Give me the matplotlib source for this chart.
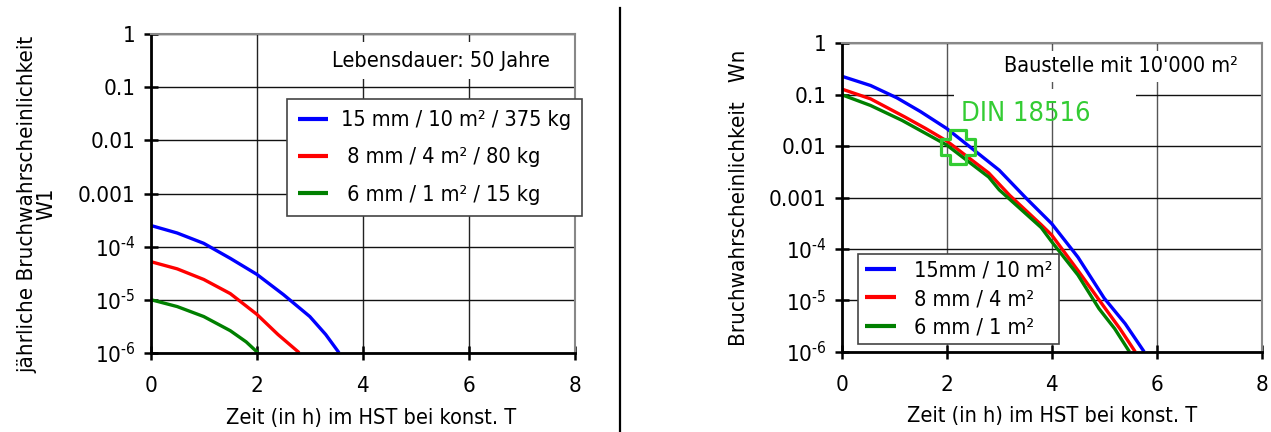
import matplotlib
matplotlib.use("Agg")
import matplotlib.pyplot as plt
from matplotlib.lines import Line2D
from matplotlib.path import Path
from matplotlib.ticker import FixedLocator, FixedFormatter, NullLocator

# ---------------- data ----------------
x_ticks = [0, 2, 4, 6, 8]
y_ticks = [1, 0.1, 0.01, 0.001, 1e-4, 1e-5, 1e-6]
y_tick_labels = ["1", "0.1", "0.01", "0.001",
                 r"$10^{\text{-4}}$", r"$10^{\text{-5}}$", r"$10^{\text{-6}}$"]

# left chart: annual failure probability W1
left_labels = ["15 mm / 10 m² / 375 kg", " 8 mm / 4 m² / 80 kg", " 6 mm / 1 m² / 15 kg"]
left_blue_x = [0, 0.5, 1.0, 1.5, 2.0, 2.5, 3.0, 3.3, 3.55]
left_blue_y = [2.5e-4, 1.8e-4, 1.15e-4, 6.0e-5, 3.0e-5, 1.25e-5, 4.8e-6, 2.2e-6, 1.0e-6]
left_red_x = [0, 0.5, 1.0, 1.5, 2.0, 2.4, 2.8]
left_red_y = [5.2e-5, 3.8e-5, 2.4e-5, 1.3e-5, 5.3e-6, 2.2e-6, 1.0e-6]
left_green_x = [0, 0.5, 1.0, 1.5, 1.8, 2.02]
left_green_y = [1.0e-5, 7.4e-6, 4.8e-6, 2.6e-6, 1.6e-6, 1.0e-6]

# right chart: failure probability Wn
right_labels = ["15mm / 10 m²", "8 mm / 4 m²", "6 mm / 1 m²"]
right_blue_x = [0, 0.55, 1.05, 1.5, 2.0, 2.55, 3.0, 3.5, 4.0, 4.5, 5.0, 5.4, 5.76]
right_blue_y = [0.229, 0.151, 0.087, 0.047, 0.022, 0.0079, 0.0034, 1.0e-3, 3.1e-4, 6.9e-5, 1.1e-5, 3.5e-6, 1.0e-6]
right_red_x = [0, 0.55, 1.2, 1.6, 2.0, 2.8, 3.2, 3.8, 4.0, 4.5, 5.0, 5.3, 5.59]
right_red_y = [0.129, 0.083, 0.037, 0.022, 0.0126, 0.0030, 1.1e-3, 2.95e-4, 1.86e-4, 3.8e-5, 7.4e-6, 2.8e-6, 1.0e-6]
right_green_x = [0, 0.55, 1.15, 2.0, 2.8, 3.0, 3.8, 4.0, 4.5, 4.9, 5.2, 5.48]
right_green_y = [0.1, 0.0617, 0.0316, 0.0105, 0.0025, 0.00141, 2.6e-4, 1.38e-4, 3.1e-5, 6.9e-6, 2.8e-6, 1.0e-6]

din_label = "DIN 18516"
din_x = 2.22
din_y = 0.0097

series_colors = ["#0000ff", "#ff0000", "#008000"]
din_color = "#33cc33"

# ---------------- style ----------------
plt.rcParams["font.family"] = "DejaVu Sans"
plt.rcParams["font.stretch"] = "condensed"
plt.rcParams["mathtext.fontset"] = "custom"
plt.rcParams["mathtext.rm"] = "DejaVu Sans:stretch=condensed"
plt.rcParams["mathtext.it"] = "DejaVu Sans:stretch=condensed"
plt.rcParams["mathtext.bf"] = "DejaVu Sans:stretch=condensed:bold"
plt.rcParams["mathtext.default"] = "rm"
FS = 15.6
TFS = 16

fig = plt.figure(figsize=(12.71, 4.32), dpi=100)
W, H = 1271.0, 432.0


def fx(px):
    return px / W


def fy(py):
    return 1 - py / H


axL = fig.add_axes([fx(150.7), fy(352.7), (575 - 150.7) / W, (352.7 - 34.3) / H])
axR = fig.add_axes([fx(841.7), fy(351.7), (1261.7 - 841.7) / W, (351.7 - 43.3) / H])


def style_axes(ax, vgrid_color):
    ax.set_yscale("log")
    ax.set_xlim(0, 8)
    ax.set_ylim(1e-6, 1)
    ax.xaxis.set_major_locator(FixedLocator(x_ticks))
    ax.yaxis.set_major_locator(FixedLocator(y_ticks))
    ax.yaxis.set_major_formatter(FixedFormatter(y_tick_labels))
    ax.yaxis.set_minor_locator(NullLocator())
    ax.xaxis.set_minor_locator(NullLocator())
    ax.grid(True, axis="y", color="#111111", lw=1.0)
    ax.grid(True, axis="x", color=vgrid_color, lw=1.0)
    for s in ["left", "bottom"]:
        ax.spines[s].set_color("black")
        ax.spines[s].set_linewidth(2.0)
    for s in ["top", "right"]:
        ax.spines[s].set_color("#888888")
        ax.spines[s].set_linewidth(1.5)
    ax.tick_params(axis="both", which="major", direction="inout", length=10,
                   width=1.8, color="black", labelsize=TFS)
    ax.tick_params(axis="x", pad=12)
    ax.tick_params(axis="y", pad=6)


style_axes(axL, "#222222")
style_axes(axR, "#555555")

# ---- left curves ----
for xs, ys, c, lab in zip([left_blue_x, left_red_x, left_green_x],
                          [left_blue_y, left_red_y, left_green_y],
                          series_colors, left_labels):
    axL.plot(xs, ys, color=c, lw=2.4, label=lab, solid_capstyle="butt")

axL.text(5.47, 0.318, "Lebensdauer: 50 Jahre", fontsize=FS, ha="center", va="center",
         zorder=2.2, bbox=dict(facecolor="white", edgecolor="none", pad=6))

legL = axL.legend(loc="upper left", bbox_to_anchor=(fx(286.7), fy(99.3)),
                  bbox_transform=fig.transFigure, borderaxespad=0,
                  fontsize=FS, frameon=True, fancybox=False, framealpha=1,
                  edgecolor="#444444", handlelength=1.4, handletextpad=0.6,
                  labelspacing=0.8, borderpad=0.5)
legL.get_frame().set_linewidth(1.2)
for ln in legL.get_lines():
    ln.set_linewidth(3.0)

# ---- right curves ----
for xs, ys, c, lab in zip([right_blue_x, right_red_x, right_green_x],
                          [right_blue_y, right_red_y, right_green_y],
                          series_colors, right_labels):
    axR.plot(xs, ys, color=c, lw=2.4, label=lab, solid_capstyle="butt")

axR.text(5.32, 0.36, "Baustelle mit 10'000 m²", fontsize=FS, ha="center", va="center",
         zorder=2.2,
         bbox=dict(facecolor="white", edgecolor="none", boxstyle="square,pad=0.25"))
# white patch under the text box hiding the 0.1 gridline
axR.axhspan(0.075, 0.13, xmin=2.14 / 8, xmax=5.6 / 8, facecolor="white",
            edgecolor="none", zorder=2.1)

axR.text(3.5, 0.043, din_label, fontsize=19.5, color=din_color, ha="center",
         va="center", zorder=4)

a = 0.49
plus_verts = [(-a, 1), (a, 1), (a, a), (1, a), (1, -a), (a, -a), (a, -1), (-a, -1),
              (-a, -a), (-1, -a), (-1, a), (-a, a), (-a, 1)]
plus_codes = [Path.MOVETO] + [Path.LINETO] * 11 + [Path.CLOSEPOLY]
plus_path = Path(plus_verts, plus_codes)
axR.plot([din_x], [din_y], marker=plus_path, ms=24.5, mfc="none", mec=din_color,
         mew=2.3, ls="none", zorder=5)

legR = axR.legend(loc="upper left", bbox_to_anchor=(fx(858.3), fy(254.3)),
                  bbox_transform=fig.transFigure, borderaxespad=0,
                  fontsize=FS, frameon=True, fancybox=False, framealpha=1,
                  edgecolor="#444444", handlelength=1.45, handletextpad=0.8,
                  labelspacing=0.38, borderpad=0.3)
legR.get_frame().set_linewidth(1.2)
for ln in legR.get_lines():
    ln.set_linewidth(3.0)

# ---- axis labels ----
fig.text(fx(36.5), fy(204), "jährliche Bruchwahrscheinlichkeit\nW1", rotation=90,
         ha="center", va="center", fontsize=FS + 0.4, multialignment="center",
         linespacing=0.92)
fig.text(fx(739), fy(197.5), "Bruchwahrscheinlichkeit   Wn", rotation=90,
         ha="center", va="center", fontsize=FS + 0.4)
fig.text(fx(370.8), fy(418), "Zeit (in h) im HST bei konst. T", ha="center",
         va="center", fontsize=FS)
fig.text(fx(1051.7), fy(416), "Zeit (in h) im HST bei konst. T", ha="center",
         va="center", fontsize=FS)

# ---- divider line ----
fig.add_artist(Line2D([fx(620), fx(620)], [0, fy(8)], color="black", lw=1.6))

fig.savefig("out.png", dpi=100)
